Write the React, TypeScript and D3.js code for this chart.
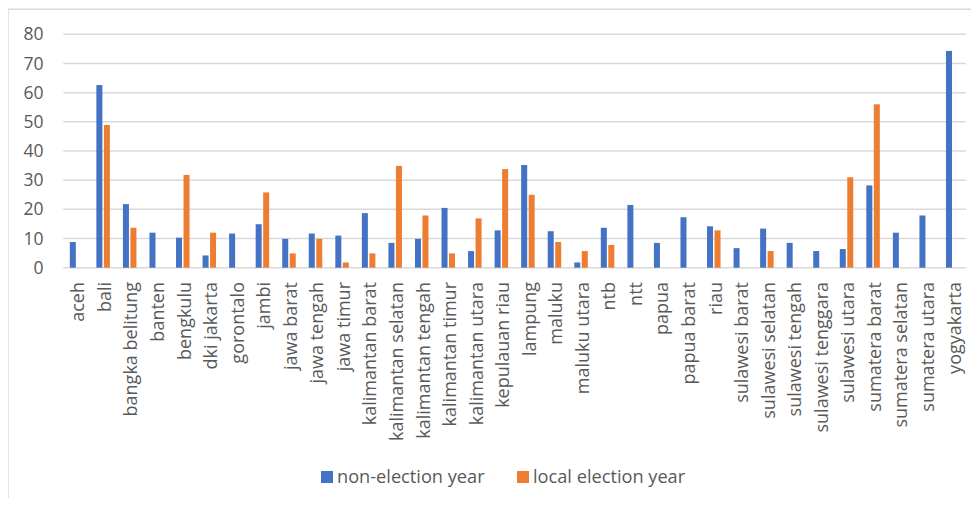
import React from "react";
import * as d3 from "d3";

const provinces: string[] = [
  "aceh", "bali", "bangka belitung", "banten", "bengkulu", "dki jakarta",
  "gorontalo", "jambi", "jawa barat", "jawa tengah", "jawa timur",
  "kalimantan barat", "kalimantan selatan", "kalimantan tengah",
  "kalimantan timur", "kalimantan utara", "kepulauan riau", "lampung",
  "maluku", "maluku utara", "ntb", "ntt", "papua", "papua barat", "riau",
  "sulawesi barat", "sulawesi selatan", "sulawesi tengah",
  "sulawesi tenggara", "sulawesi utara", "sumatera barat",
  "sumatera selatan", "sumatera utara", "yogyakarta",
];

const nonElectionYear: number[] = [
  8.8, 62.6, 21.8, 12.0, 10.3, 4.2, 11.7, 14.9, 9.9, 11.7, 11.0,
  18.7, 8.5, 9.9, 20.5, 5.7, 12.8, 35.2, 12.5, 1.8, 13.7, 21.5,
  8.5, 17.3, 14.2, 6.7, 13.4, 8.5, 5.7, 6.4, 28.2, 12.0, 17.9, 74.3,
];

const localElectionYear: number[] = [
  0, 48.9, 13.7, 0, 31.8, 12.0, 0, 25.8, 4.9, 9.9, 1.8,
  4.9, 34.9, 17.9, 4.9, 16.9, 33.8, 25.0, 8.8, 5.7, 7.8, 0,
  0, 0, 12.8, 0, 5.7, 0, 0, 31.0, 56.0, 0, 0, 0,
];

const yTicks: number[] = [0, 10, 20, 30, 40, 50, 60, 70, 80];

const seriesNames: string[] = ["non-election year", "local election year"];
const seriesColors: string[] = ["#4472C4", "#ED7D31"];

const W = 979;
const H = 506;
const FONT = "'Open Sans', 'Segoe UI', sans-serif";
const TEXT = "#595959";
const GRID = "#d9d9d9";

export default function App() {
  const left = 63.3;
  const right = 966;
  const top = 34.3;
  const bottom = 267.7;

  const x = d3.scaleBand<string>().domain(provinces).range([left, right]).padding(0);
  const y = d3.scaleLinear().domain([0, 80]).range([bottom, top]);

  const barW = 6;
  const innerGap = 1.5;
  const series = [nonElectionYear, localElectionYear];

  return (
    <div style={{ margin: -8, width: W, height: H, background: "#fff" }}>
      <svg width={W} height={H} style={{ display: "block", fontFamily: FONT }}>
        <rect x={0} y={0} width={W} height={H} fill="#fff" />
        {/* chart frame (left and top edges) */}
        <line x1={8} x2={8} y1={9} y2={H} stroke={GRID} strokeWidth={1.5} />
        <line x1={8} x2={W} y1={9.3} y2={9.3} stroke={GRID} strokeWidth={1.5} />

        {/* gridlines and y labels */}
        {yTicks.map((t) => (
          <g key={t}>
            <line x1={left} x2={right} y1={y(t)} y2={y(t)} stroke={GRID} strokeWidth={1.5} />
            <text
              x={43.5}
              y={y(t)}
              dy="0.35em"
              textAnchor="end"
              fontSize={17.5}
              fill={TEXT}
            >
              {t}
            </text>
          </g>
        ))}

        {/* bars */}
        {series.map((vals, si) =>
          provinces.map((p, i) => {
            const v = vals[i];
            if (!v) return null;
            const cx = (x(p) as number) + x.bandwidth() / 2;
            const bx = si === 0 ? cx - innerGap / 2 - barW : cx + innerGap / 2;
            return (
              <rect
                key={`${si}-${p}`}
                x={bx}
                y={y(v)}
                width={barW}
                height={y(0) - y(v)}
                fill={seriesColors[si]}
              />
            );
          })
        )}

        {/* category labels */}
        {provinces.map((p) => {
          const cx = (x(p) as number) + x.bandwidth() / 2;
          return (
            <text
              key={p}
              transform={`translate(${cx + 1.5},${282}) rotate(-90)`}
              dy="0.35em"
              textAnchor="end"
              fontSize={18}
              fill={TEXT}
            >
              {p}
            </text>
          );
        })}

        {/* legend */}
        {seriesNames.map((n, i) => {
          const lx = i === 0 ? 321 : 517;
          return (
            <g key={n}>
              <rect x={lx} y={471} width={12} height={12} fill={seriesColors[i]} />
              <text x={lx + 16} y={477} dy="0.35em" fontSize={18.2} fill={TEXT}>
                {n}
              </text>
            </g>
          );
        })}
      </svg>
    </div>
  );
}
